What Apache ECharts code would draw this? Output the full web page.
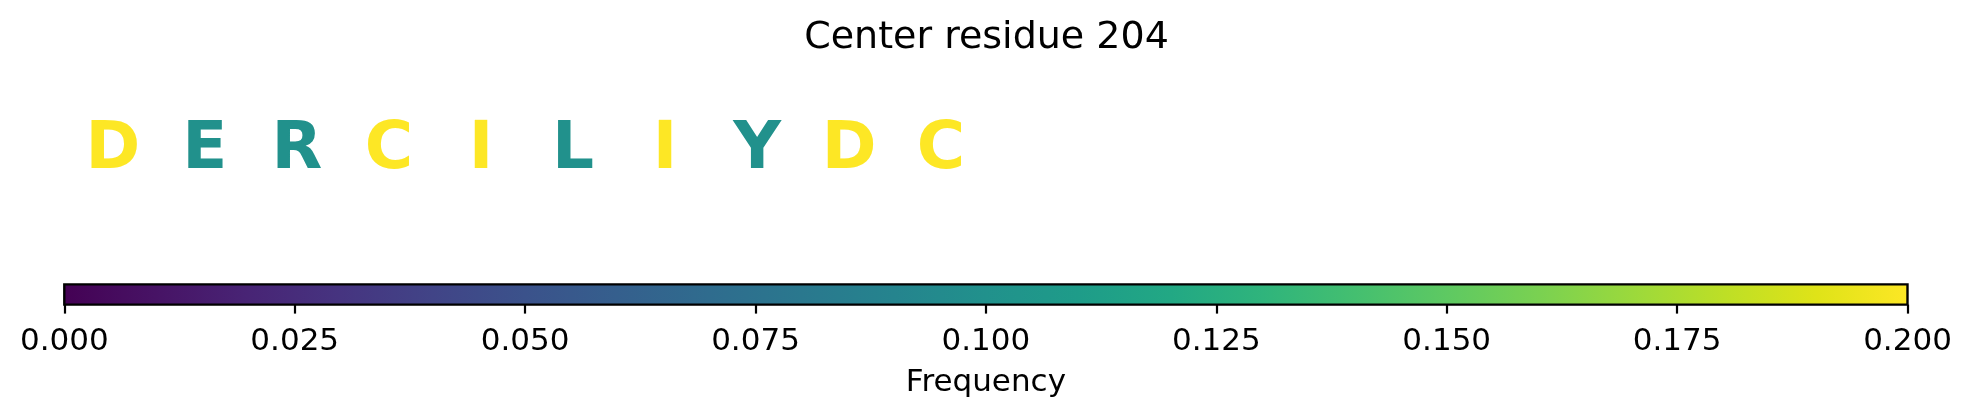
<!DOCTYPE html>
<html>
<head>
<meta charset="utf-8">
<script src="https://cdn.jsdelivr.net/npm/echarts@6/dist/echarts.min.js"></script>
<style>
html,body{margin:0;padding:0;background:#fff;}
#chart{width:1973px;height:416px;}
</style>
</head>
<body>
<div id="chart"></div>
<script>
// ---- data ----
const titleText = 'Center residue 204';
const residues = ['D','E','R','C','I','L','I','Y','D','C'];
const frequencies = [0.2, 0.1, 0.1, 0.2, 0.2, 0.1, 0.2, 0.1, 0.2, 0.2];
const colorbarRange = [0, 0.2];
const colorbarTicks = ['0.000','0.025','0.050','0.075','0.100','0.125','0.150','0.175','0.200'];
const colorbarLabel = 'Frequency';

// viridis colormap stops
const viridis = ['#440154','#471365','#482475','#463480','#414487','#3b528b','#355f8d','#2f6c8e','#2a788e','#25848e','#21918c','#1e9c89','#22a884','#2fb47c','#44bf70','#5ec962','#7ad151','#9bd93c','#bddf26','#dfe318','#fde725'];

const FONT = '"DejaVu Sans", "Liberation Sans", sans-serif';
const chart = echarts.init(document.getElementById('chart'), null, {renderer: 'canvas'});

const letterData = residues.map((r, i) => [i, 0.5, frequencies[i]]);

chart.setOption({
  backgroundColor: '#ffffff',
  animation: false,
  title: {
    text: titleText,
    left: 'center',
    top: 14,
    textStyle: {fontFamily: FONT, fontSize: 38, fontWeight: 'normal', color: '#000'}
  },
  visualMap: {
    show: false,
    type: 'continuous',
    seriesIndex: 0,
    dimension: 2,
    min: colorbarRange[0],
    max: colorbarRange[1],
    inRange: {color: viridis}
  },
  grid: [
    {left: 66.8, width: 1840.6, top: 107.5, height: 86},
    {left: 64.3, width: 1843.2, top: 284.4, height: 20.2}
  ],
  xAxis: [
    {gridIndex: 0, type: 'value', min: -0.5, max: 19.5, show: false},
    {
      gridIndex: 1, type: 'value',
      min: colorbarRange[0], max: colorbarRange[1], interval: 0.025,
      axisLine: {show: false},
      axisTick: {show: true, length: 9, lineStyle: {color: '#000', width: 2.2}},
      splitLine: {show: false},
      axisLabel: {
        margin: 21.5,
        fontFamily: FONT, fontSize: 31, color: '#000',
        formatter: (v) => colorbarTicks[Math.round(v / 0.025)]
      },
      name: colorbarLabel,
      nameLocation: 'middle',
      nameGap: 63,
      nameTextStyle: {fontFamily: FONT, fontSize: 31, color: '#000'}
    }
  ],
  yAxis: [
    {gridIndex: 0, type: 'value', min: 0, max: 1, show: false},
    {gridIndex: 1, type: 'value', min: 0, max: 1, show: false}
  ],
  series: [
    {
      type: 'custom',
      xAxisIndex: 0, yAxisIndex: 0,
      data: letterData,
      encode: {x: 0, y: 1},
      renderItem: function (params, api) {
        const p = api.coord([api.value(0), api.value(1)]);
        return {
          type: 'text',
          x: p[0], y: p[1],
          style: {
            text: residues[params.dataIndex],
            fill: api.visual('color'),
            fontFamily: FONT,
            fontWeight: 'bold',
            fontSize: 66,
            align: 'center',
            verticalAlign: 'middle'
          }
        };
      }
    },
    {
      type: 'custom',
      xAxisIndex: 1, yAxisIndex: 1,
      data: [[colorbarRange[0], colorbarRange[1]]],
      renderItem: function (params, api) {
        const a = api.coord([api.value(0), 0]);
        const b = api.coord([api.value(1), 1]);
        const stops = viridis.map((c, i) => ({offset: i / (viridis.length - 1), color: c}));
        return {
          type: 'rect',
          shape: {x: a[0], y: b[1], width: b[0] - a[0], height: a[1] - b[1]},
          style: {
            fill: new echarts.graphic.LinearGradient(0, 0, 1, 0, stops),
            stroke: '#000',
            lineWidth: 2.4
          }
        };
      }
    }
  ]
});
</script>
</body>
</html>
